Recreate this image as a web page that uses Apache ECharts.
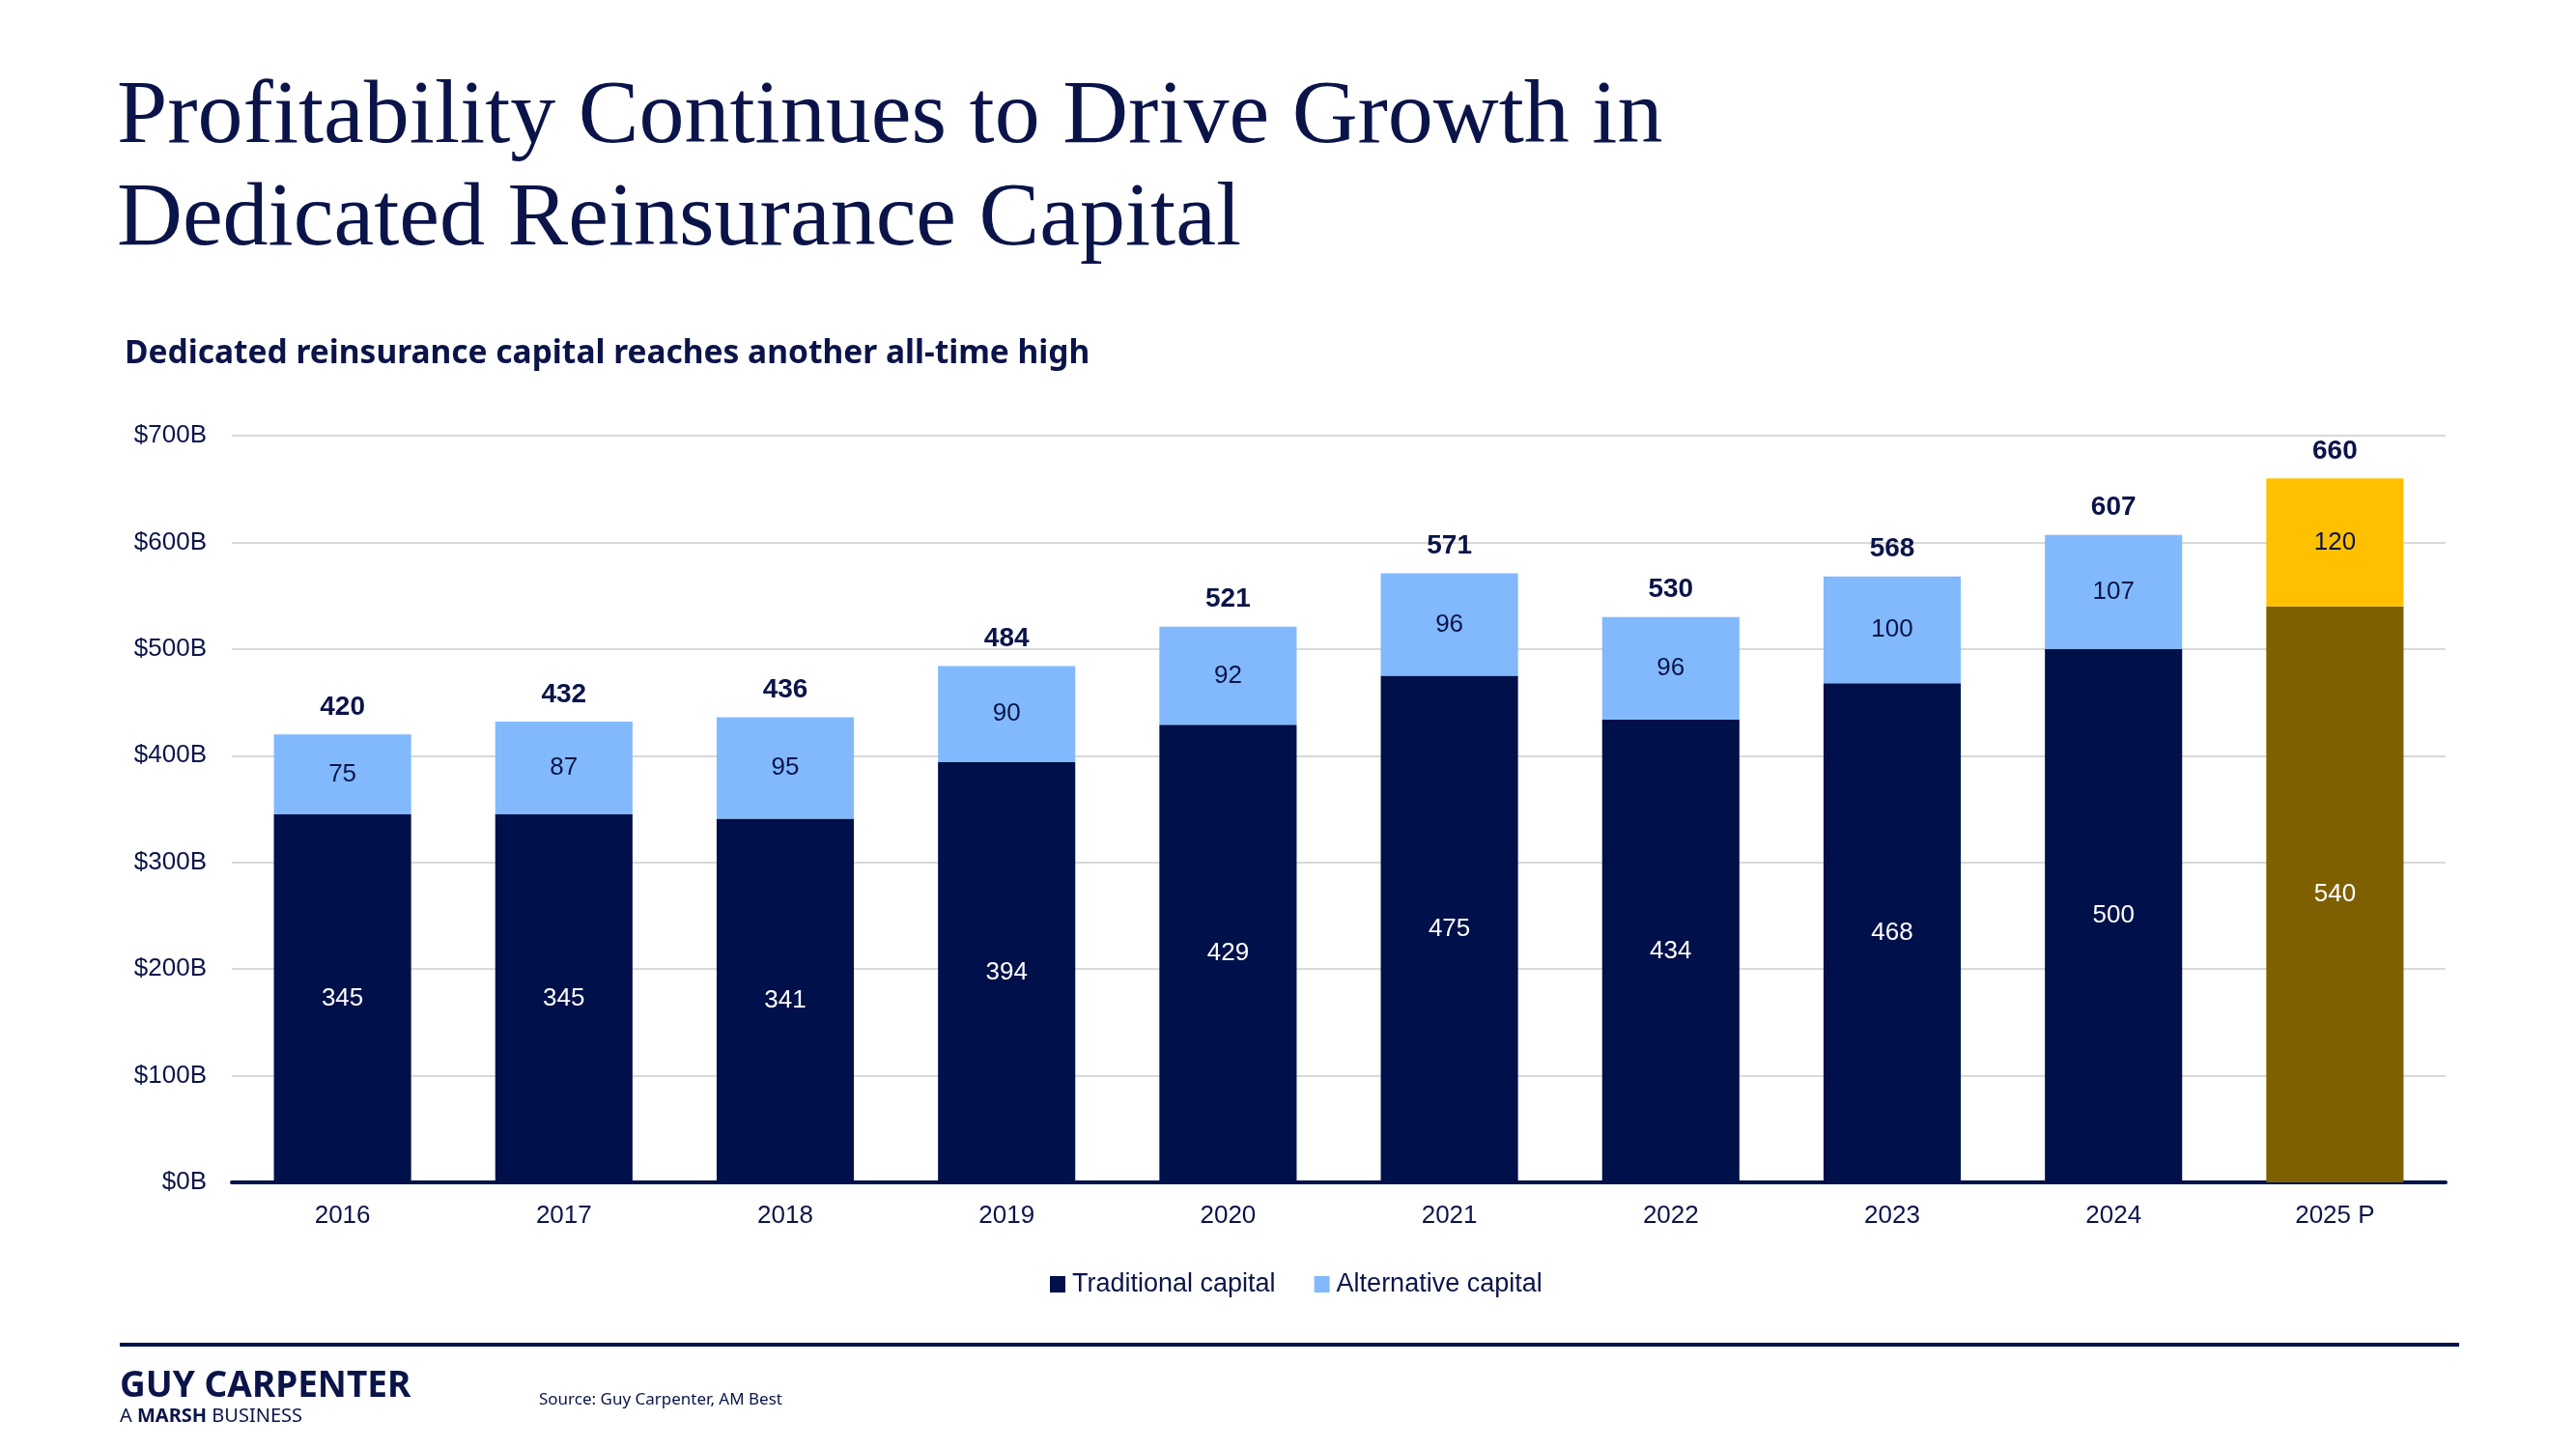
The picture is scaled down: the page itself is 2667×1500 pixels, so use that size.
<!DOCTYPE html>
<html>
<head>
<meta charset="utf-8">
<title>Dedicated Reinsurance Capital</title>
<script src="https://cdn.jsdelivr.net/npm/echarts@6/dist/echarts.min.js"></script>
<style>
  html, body { margin: 0; padding: 0; background: #fff; }
  #chart { width: 2667px; height: 1500px; }
</style>
</head>
<body>
<div id="chart"></div>
<script>
// data ($B)
const years = ["2016", "2017", "2018", "2019", "2020", "2021", "2022", "2023", "2024", "2025 P"];
const traditional = [345, 345, 341, 394, 429, 475, 434, 468, 500, 540];
const alternative = [75, 87, 95, 90, 92, 96, 96, 100, 107, 120];
const yTicks = [0, 100, 200, 300, 400, 500, 600, 700];

const navy = "#00104a";
const lightBlue = "#82b9fd";
const projTrad = "#7f6000";
const projAlt = "#ffc000";
const textNavy = "#0b1449";

const totals = traditional.map((v, i) => v + alternative[i]);
const last = years.length - 1;

let chartDom = document.getElementById("chart");
let myChart = echarts.init(chartDom);

let option = {
  backgroundColor: "#fff",
  animation: false,
  title: [
    {
      text: "Profitability Continues to Drive Growth in\nDedicated Reinsurance Capital",
      left: 116,
      top: 64,
      textStyle: {
        fontFamily: "Liberation Serif",
        fontWeight: "normal",
        fontSize: 94,
        lineHeight: 106,
        color: textNavy,
      },
    },
    {
      text: "Dedicated reinsurance capital reaches another all-time high",
      left: 124,
      top: 344,
      textStyle: {
        fontFamily: "Noto Sans",
        fontWeight: "bold",
        fontSize: 33.5,
        color: textNavy,
      },
    },
  ],
  legend: {
    data: ["Traditional capital", "Alternative capital"],
    left: 1082,
    top: 1311,
    icon: "rect",
    itemWidth: 16,
    itemHeight: 17,
    itemGap: 40,
    textStyle: {
      fontFamily: "Liberation Sans",
      fontSize: 27,
      color: textNavy,
      padding: [0, 0, 0, 2],
    },
  },
  grid: {
    left: 240,
    right: 135,
    top: 451,
    bottom: 276,
  },
  xAxis: {
    type: "category",
    data: years,
    axisLine: { lineStyle: { color: navy, width: 4 } },
    axisTick: { show: false },
    axisLabel: {
      margin: 22,
      fontFamily: "Liberation Sans",
      fontSize: 26,
      color: textNavy,
    },
  },
  yAxis: {
    type: "value",
    min: yTicks[0],
    max: yTicks[yTicks.length - 1],
    interval: 100,
    axisLine: { show: false },
    axisTick: { show: false },
    splitLine: { lineStyle: { color: "#d9d9d9", width: 2 } },
    axisLabel: {
      margin: 26,
      fontFamily: "Liberation Sans",
      fontSize: 26,
      color: textNavy,
      formatter: (v) => "$" + v + "B",
    },
  },
  series: [
    {
      name: "Traditional capital",
      type: "bar",
      stack: "cap",
      barWidth: "62%",
      itemStyle: { color: navy },
      label: {
        show: true,
        position: "inside",
        fontFamily: "Liberation Sans",
        fontSize: 26,
        color: "#fff",
      },
      data: traditional.map((v, i) =>
        i === last ? { value: v, itemStyle: { color: projTrad } } : v
      ),
    },
    {
      name: "Alternative capital",
      type: "bar",
      stack: "cap",
      barWidth: "62%",
      itemStyle: { color: lightBlue },
      label: {
        show: true,
        position: "inside",
        fontFamily: "Liberation Sans",
        fontSize: 26,
        color: textNavy,
      },
      data: alternative.map((v, i) =>
        i === last ? { value: v, itemStyle: { color: projAlt } } : v
      ),
    },
    {
      // zero-height cap that only carries the total label
      name: "Total",
      type: "bar",
      stack: "cap",
      barWidth: "62%",
      itemStyle: { color: "rgba(0,0,0,0)" },
      label: {
        show: true,
        position: "top",
        distance: 14,
        fontFamily: "Liberation Sans",
        fontWeight: "bold",
        fontSize: 28,
        color: textNavy,
        formatter: (p) => String(totals[p.dataIndex]),
      },
      data: totals.map(() => 0),
    },
  ],
  graphic: [
    {
      type: "rect",
      shape: { x: 124, y: 1390, width: 2422, height: 4 },
      style: { fill: navy },
    },
    {
      type: "text",
      left: 124,
      top: 1417,
      style: {
        text: "GUY CARPENTER",
        fontFamily: "Noto Sans",
        fontWeight: "bold",
        fontSize: 37,
        fill: textNavy,
      },
    },
    {
      type: "text",
      left: 124,
      top: 1456,
      style: {
        text: "{n|A }{b|MARSH}{n| BUSINESS}",
        rich: {
          n: { fontFamily: "Noto Sans", fontSize: 20, fill: textNavy },
          b: { fontFamily: "Noto Sans", fontWeight: "bold", fontSize: 20, fill: textNavy },
        },
      },
    },
    {
      type: "text",
      left: 558,
      top: 1441,
      style: {
        text: "Source: Guy Carpenter, AM Best",
        fontFamily: "Noto Sans",
        fontSize: 17,
        fill: textNavy,
      },
    },
  ],
};

option && myChart.setOption(option);
</script>
</body>
</html>
